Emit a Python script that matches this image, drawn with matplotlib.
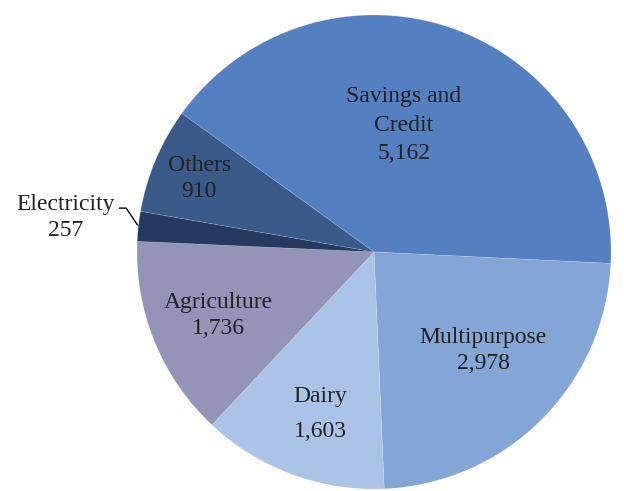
import numpy as np
import matplotlib.pyplot as plt
import matplotlib
matplotlib.rcParams['font.family'] = 'Liberation Serif'
plt.rcParams.update({'font.size': 17})

sectors = ["Savings and\nCredit", "Multipurpose", "Dairy", "Agriculture", "Electricity", "Others"]
counts = [5162, 2978, 1603, 1736, 257, 910]
colors = ["#547fc1", "#84a6d6", "#abc3e6", "#9394b8", "#253a5e", "#3a5a8a"]

# label placement: radial fraction, angle nudge (deg), line spacing
lab_r = [0.55, 0.62, 0.72, 0.71, None, 0.80]
lab_da = [6, 3, 2, 0, 0, 0]
lab_ls = [1.45, 1.35, 1.9, 1.35, 1.35, 1.35]

R_PX = 237.0
CX, CY = 374.0, 252.0
W, H = 624, 491

fig = plt.figure(figsize=(W/100, H/100), dpi=100)
ax = fig.add_axes([0, 0, 1, 1])
wedges, _ = ax.pie(counts, colors=colors, startangle=144.2, counterclock=False,
                   radius=1.0, wedgeprops=dict(edgecolor=(1, 1, 1, 0.18), linewidth=0.5))

for i, w in enumerate(wedges):
    txt = sectors[i] + "\n" + format(counts[i], ",")
    mid = np.deg2rad((w.theta1 + w.theta2) / 2 + lab_da[i])
    if lab_r[i] is None:
        # small slice: label outside with a leader line
        ex, ey = np.cos(mid), np.sin(mid)
        ax.annotate(txt, xy=(ex, ey), xytext=(-1.30, 0.145), ha="center", va="center",
                    color="#222222", linespacing=lab_ls[i],
                    arrowprops=dict(arrowstyle="-", color="black", lw=1.0,
                                    connectionstyle="angle,angleA=0,angleB=124,rad=0",
                                    relpos=(1.0, 0.70), shrinkA=1, shrinkB=1))
    else:
        ax.text(lab_r[i]*np.cos(mid), lab_r[i]*np.sin(mid), txt, ha="center", va="center",
                color="#222222", linespacing=lab_ls[i])

ax.set_xlim(-CX/R_PX, (W-CX)/R_PX)
ax.set_ylim(-(H-CY)/R_PX, CY/R_PX)
ax.set_aspect("equal")
ax.axis("off")

plt.savefig("out.png", dpi=100)
